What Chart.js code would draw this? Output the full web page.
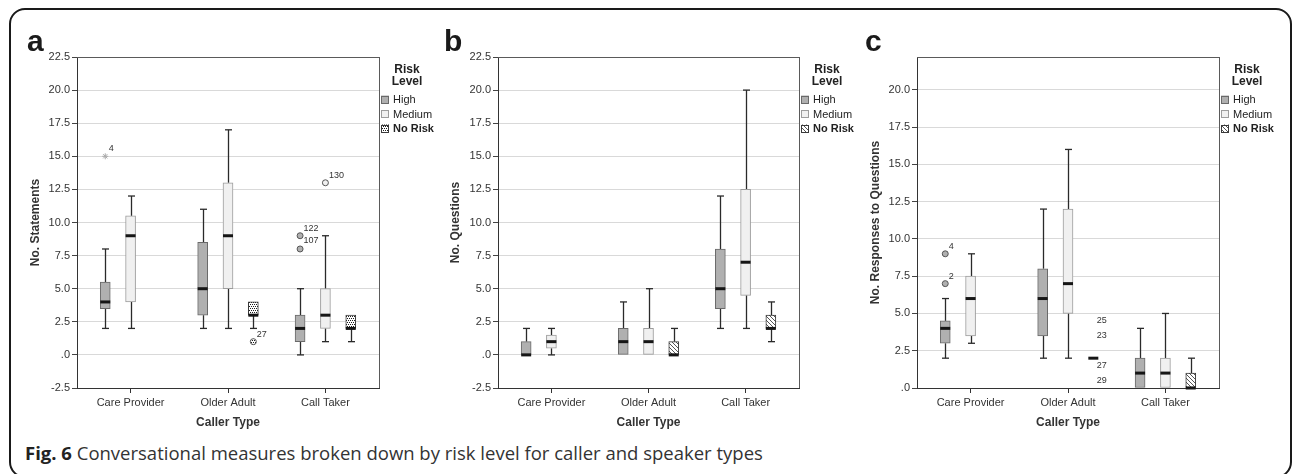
<!DOCTYPE html>
<html><head><meta charset="utf-8">
<script src="https://cdn.jsdelivr.net/npm/chart.js@4.4.1/dist/chart.umd.min.js"></script>
<style>
html,body{margin:0;padding:0;background:#fff;}
body{width:1292px;height:474px;position:relative;overflow:hidden;font-family:"Liberation Sans",Arial,sans-serif;}
#frame{position:absolute;left:9px;top:8px;width:1283px;height:470px;border:2px solid #1a1a1a;border-radius:16px;box-sizing:border-box;}
.letter{position:absolute;top:26px;font:bold 30px "Liberation Sans",Arial,sans-serif;color:#1a1a1a;line-height:30px;}
canvas{position:absolute;top:0;}
#caption{position:absolute;left:25px;top:440px;font-size:18.5px;font-family:"Open Sans",sans-serif;color:#333;white-space:nowrap;}
#caption b{color:#222;}
</style></head>
<body>
<div id="frame"></div>
<canvas id="ca" width="450" height="440" style="left:0px"></canvas>
<canvas id="cb" width="430" height="440" style="left:430px"></canvas>
<canvas id="cc" width="432" height="440" style="left:860px"></canvas>
<div class="letter" style="left:27px">a</div>
<div class="letter" style="left:444px">b</div>
<div class="letter" style="left:865px">c</div>
<div id="caption"><b>Fig. 6</b> Conversational measures broken down by risk level for caller and speaker types</div>
<script>
// ---------- data ----------
const categories = ['Care Provider', 'Older Adult', 'Call Taker'];
const riskLevels = ['High', 'Medium', 'No Risk'];
const xTitle = 'Caller Type';

// five-number summaries [min, q1, median, q3, max] per caller type
const statementsHigh   = [[2, 3.5, 4, 5.5, 8], [2, 3, 5, 8.5, 11], [0, 1, 2, 3, 5]];
const statementsMedium = [[2, 4, 9, 10.5, 12], [2, 5, 9, 13, 17], [1, 2, 3, 5, 9]];
const statementsNoRisk = [null, [2, 3, 3, 4, 4], [1, 2, 2, 3, 3]];
const statementsOutliers = [
  {cat: 0, risk: 0, value: 15, ids: ['4'], extreme: true},
  {cat: 1, risk: 2, value: 1, ids: ['27']},
  {cat: 2, risk: 0, value: 9, ids: ['122', '107']},
  {cat: 2, risk: 0, value: 8, ids: []},
  {cat: 2, risk: 1, value: 13, ids: ['130']}
];

const questionsHigh   = [[0, 0, 0, 1, 2], [0, 0, 1, 2, 4], [2, 3.5, 5, 8, 12]];
const questionsMedium = [[0, 0.5, 1, 1.5, 2], [0, 0, 1, 2, 5], [2, 4.5, 7, 12.5, 20]];
const questionsNoRisk = [null, [0, 0, 0, 1, 2], [1, 2, 2, 3, 4]];
const questionsOutliers = [];

const responsesHigh   = [[2, 3, 4, 4.5, 6], [2, 3.5, 6, 8, 12], [0, 0, 1, 2, 4]];
const responsesMedium = [[3, 3.5, 6, 7.5, 9], [2, 5, 7, 12, 16], [0, 0, 1, 2, 5]];
const responsesNoRisk = [null, [2, 2, 2, 2, 2], [0, 0, 0, 1, 2]];
const responsesOutliers = [
  {cat: 0, risk: 0, value: 9, ids: ['4']},
  {cat: 0, risk: 0, value: 7, ids: ['2']},
  {cat: 1, risk: 2, value: 4, ids: ['25'], marker: false},
  {cat: 1, risk: 2, value: 3, ids: ['23'], marker: false},
  {cat: 1, risk: 2, value: 1, ids: ['27'], marker: false},
  {cat: 1, risk: 2, value: 0, ids: ['29'], marker: false}
];

const yTicksStatements = [-2.5, 0, 2.5, 5, 7.5, 10, 12.5, 15, 17.5, 20, 22.5];
const yTicksQuestions  = [-2.5, 0, 2.5, 5, 7.5, 10, 12.5, 15, 17.5, 20, 22.5];
const yTicksResponses  = [0, 2.5, 5, 7.5, 10, 12.5, 15, 17.5, 20];

// ---------- styling ----------
Chart.defaults.font.family = '"Liberation Sans", Arial, sans-serif';
Chart.defaults.font.size = 11;
Chart.defaults.color = '#333';

function makePattern(kind) {
  const c = document.createElement('canvas');
  c.width = 4; c.height = 4;
  const g = c.getContext('2d');
  g.fillStyle = '#ffffff'; g.fillRect(0, 0, 4, 4);
  g.fillStyle = kind === 'dots' ? '#1e1e1e' : '#555555';
  const pts = kind === 'dots' ? [[0,0],[2,0],[1,2],[3,2]] : [[0,0],[1,1],[2,2],[3,3]];
  pts.forEach(p => g.fillRect(p[0], p[1], 1, 1));
  return g.createPattern(c, 'repeat');
}

const OFFSETS = [-0.26, 0, 0.26];
const BORDERS = ['#6a6a6a', '#9c9c9c', '#3a3a3a'];

function fmtTick(v) { return v === 0 ? '.0' : v.toFixed(1); }

const boxPlugin = {
  id: 'boxParts',
  beforeDatasetsDraw(chart) {
    const {ctx} = chart, y = chart.scales.y;
    ctx.save();
    chart.data.datasets.forEach((ds, i) => {
      if (ds.type !== 'bar') return;
      const meta = chart.getDatasetMeta(i);
      meta.data.forEach((el, j) => {
        const b = ds.data[j].box;
        ctx.strokeStyle = '#2a2a2a'; ctx.lineWidth = 1.3;
        const x = Math.round(el.x) + 0.5;
        if (b[0] < b[1]) {
          ctx.beginPath(); ctx.moveTo(x, y.getPixelForValue(b[0])); ctx.lineTo(x, y.getPixelForValue(b[1])); ctx.stroke();
          ctx.beginPath(); ctx.moveTo(x - 3.5, y.getPixelForValue(b[0])); ctx.lineTo(x + 3.5, y.getPixelForValue(b[0])); ctx.stroke();
        }
        if (b[4] > b[3]) {
          ctx.beginPath(); ctx.moveTo(x, y.getPixelForValue(b[3])); ctx.lineTo(x, y.getPixelForValue(b[4])); ctx.stroke();
          ctx.beginPath(); ctx.moveTo(x - 3.5, y.getPixelForValue(b[4])); ctx.lineTo(x + 3.5, y.getPixelForValue(b[4])); ctx.stroke();
        }
      });
    });
    ctx.restore();
  },
  afterDatasetsDraw(chart) {
    const {ctx} = chart, y = chart.scales.y;
    ctx.save();
    chart.data.datasets.forEach((ds, i) => {
      const meta = chart.getDatasetMeta(i);
      if (ds.type === 'bar') {
        meta.data.forEach((el, j) => {
          const b = ds.data[j].box;
          const py = y.getPixelForValue(b[2]);
          ctx.strokeStyle = '#161616'; ctx.lineWidth = 3;
          ctx.beginPath(); ctx.moveTo(el.x - el.width / 2, py); ctx.lineTo(el.x + el.width / 2, py); ctx.stroke();
        });
      } else {
        ctx.fillStyle = '#333'; ctx.font = '9px "Liberation Sans", Arial, sans-serif';
        ctx.textAlign = 'left'; ctx.textBaseline = 'middle';
        meta.data.forEach((el, j) => {
          const o = ds.data[j].o;
          o.ids.forEach((id, k) => ctx.fillText(id, el.x + 3.5, el.y - 7.5 + 12.5 * k));
        });
      }
    });
    ctx.restore();
  },
  afterDraw(chart) {
    const {ctx, chartArea: a} = chart;
    ctx.save();
    ctx.strokeStyle = '#5a5a5a'; ctx.lineWidth = 1;
    ctx.beginPath();
    ctx.moveTo(a.left, Math.round(a.top) + 0.5); ctx.lineTo(a.right + 0.5, Math.round(a.top) + 0.5);
    ctx.moveTo(Math.round(a.right) + 0.5, a.top); ctx.lineTo(Math.round(a.right) + 0.5, a.bottom);
    ctx.stroke();
    // legend
    const x0 = a.right;
    ctx.fillStyle = '#222'; ctx.textAlign = 'center'; ctx.textBaseline = 'middle';
    ctx.font = 'bold 12px "Liberation Sans", Arial, sans-serif';
    ctx.fillText('Risk', x0 + 28, 70);
    ctx.fillText('Level', x0 + 28, 82);
    riskLevels.forEach((lab, i) => {
      const ds = chart.data.datasets[i];
      const yy = 100 + 14.5 * i;
      ctx.fillStyle = ds.backgroundColor;
      ctx.fillRect(x0 + 2, yy - 4.5, 8, 8);
      ctx.strokeStyle = ds.borderColor; ctx.lineWidth = 1;
      ctx.strokeRect(Math.round(x0) + 2.5, Math.round(yy - 4.5) + 0.5, 7, 7);
      ctx.fillStyle = '#222'; ctx.textAlign = 'left';
      ctx.font = (i === 2 ? 'bold ' : '') + '11px "Liberation Sans", Arial, sans-serif';
      ctx.fillText(lab, x0 + 14, yy);
    });
    ctx.restore();
  }
};

function makeChart(id, o) {
  const fills = ['#b0b0b0', '#f0f0f0', makePattern(o.pattern)];
  const series = [o.high, o.medium, o.noRisk];
  const datasets = series.map((s, r) => ({
    type: 'bar',
    label: riskLevels[r],
    data: s.map((b, c) => b ? {x: c + 0.5 + OFFSETS[r], y: [b[1], b[3]], box: b} : null).filter(Boolean),
    backgroundColor: fills[r],
    borderColor: BORDERS[r],
    borderWidth: 1,
    borderSkipped: false,
    grouped: false,
    barPercentage: 1,
    categoryPercentage: 1,
    maxBarThickness: 10
  }));
  datasets.push({
    type: 'scatter',
    label: 'outliers',
    data: o.outliers.map(p => ({x: p.cat + 0.5 + OFFSETS[p.risk], y: p.value, o: p})),
    pointStyle: c => (c.raw && c.raw.o.extreme) ? 'star' : 'circle',
    pointRadius: c => (c.raw && c.raw.o.marker === false) ? 0 : 3,
    pointBackgroundColor: c => c.raw ? (c.raw.o.extreme ? '#bbb' : fills[c.raw.o.risk]) : '#999',
    pointBorderColor: c => c.raw ? (c.raw.o.extreme ? '#aaa' : '#555') : '#555',
    pointBorderWidth: 1
  });
  return new Chart(document.getElementById(id), {
    type: 'bar',
    data: {datasets},
    plugins: [boxPlugin],
    options: {
      responsive: false,
      animation: false,
      events: [],
      devicePixelRatio: 1,
      layout: {padding: {top: 57, left: 0, right: o.padRight, bottom: 0}},
      plugins: {legend: {display: false}, tooltip: {enabled: false}},
      scales: {
        x: {
          type: 'linear', min: -0.05, max: 3.05, offset: false,
          afterBuildTicks: s => { s.ticks = categories.map((c, i) => ({value: i + 0.5})); },
          afterFit: s => { s.height = 52; },
          ticks: {callback: v => categories[Math.floor(v)], maxRotation: 0, autoSkip: false, padding: 3, color: '#333', font: {size: 11}},
          grid: {drawOnChartArea: false, drawTicks: true, tickLength: 5, tickColor: '#333', offset: false},
          border: {color: '#333', width: 1},
          title: {display: true, text: xTitle, color: '#333', font: {size: 12, weight: 'bold'}, padding: {top: 0, bottom: 10}}
        },
        y: {
          type: 'linear', min: o.yMin, max: o.yMax,
          afterBuildTicks: s => { s.ticks = o.yTicks.map(v => ({value: v})); },
          afterFit: s => { s.width = o.axisWidth; },
          ticks: {callback: v => fmtTick(v), padding: 2, color: '#333', font: {size: 11}},
          grid: {color: '#d9d9d9', tickColor: '#444', tickLength: 5, lineWidth: 1},
          border: {color: '#333', width: 1},
          title: {display: true, text: o.yTitle, color: '#333', font: {size: 12, weight: 'bold'}, padding: {top: o.titlePad, bottom: 0}}
        }
      }
    }
  });
}

makeChart('ca', {high: statementsHigh, medium: statementsMedium, noRisk: statementsNoRisk, outliers: statementsOutliers,
  yTicks: yTicksStatements, yMin: -2.5, yMax: 22.5, yTitle: 'No. Statements', pattern: 'dots', padRight: 71, axisWidth: 77, titlePad: 28});
makeChart('cb', {high: questionsHigh, medium: questionsMedium, noRisk: questionsNoRisk, outliers: questionsOutliers,
  yTicks: yTicksQuestions, yMin: -2.5, yMax: 22.5, yTitle: 'No. Questions', pattern: 'hatch', padRight: 61, axisWidth: 68, titlePad: 18});
makeChart('cc', {high: responsesHigh, medium: responsesMedium, noRisk: responsesNoRisk, outliers: responsesOutliers,
  yTicks: yTicksResponses, yMin: 0, yMax: 22.2, yTitle: 'No. Responses to Questions', pattern: 'hatch', padRight: 73, axisWidth: 57, titlePad: 8});
</script>
</body></html>
